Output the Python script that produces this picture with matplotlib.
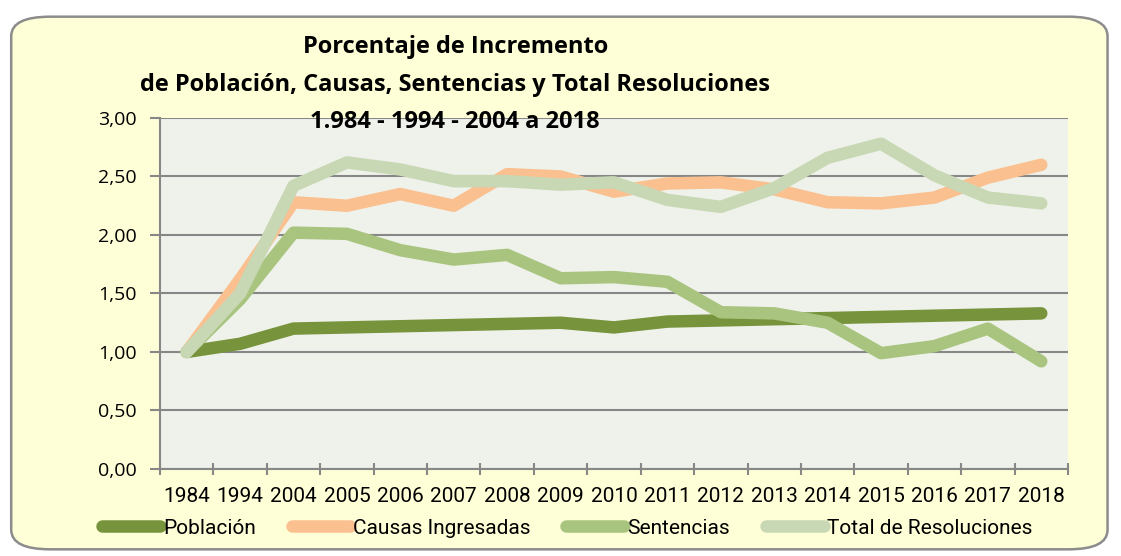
import matplotlib.pyplot as plt
from matplotlib.patches import FancyBboxPatch

years = ['1984', '1994', '2004', '2005', '2006', '2007', '2008', '2009', '2010',
         '2011', '2012', '2013', '2014', '2015', '2016', '2017', '2018']
poblacion = [1.00, 1.07, 1.20, 1.21, 1.22, 1.23, 1.24, 1.25, 1.21,
             1.26, 1.27, 1.28, 1.29, 1.30, 1.31, 1.32, 1.33]
causas = [1.00, 1.62, 2.28, 2.25, 2.35, 2.25, 2.52, 2.50, 2.37,
          2.44, 2.45, 2.39, 2.28, 2.27, 2.32, 2.49, 2.60]
sentencias = [1.00, 1.45, 2.02, 2.01, 1.87, 1.79, 1.83, 1.63, 1.64,
              1.60, 1.34, 1.33, 1.25, 0.99, 1.05, 1.20, 0.92]
total_res = [1.00, 1.50, 2.42, 2.62, 2.56, 2.46, 2.46, 2.43, 2.45,
             2.30, 2.24, 2.40, 2.66, 2.78, 2.51, 2.32, 2.27]
title_lines = ['Porcentaje de Incremento',
               'de Población, Causas, Sentencias y Total Resoluciones',
               '1.984 - 1994 - 2004 a 2018']

series = [
    ('Población', poblacion, '#77933C'),
    ('Causas Ingresadas', causas, '#FAC090'),
    ('Sentencias', sentencias, '#A9C47F'),
    ('Total de Resoluciones', total_res, '#C9D8B4'),
]

narrow = ['Liberation Sans Narrow', 'Roboto', 'DejaVu Sans']

fig = plt.figure(figsize=(11.21, 5.56), dpi=100)
fig.patch.set_facecolor('white')

# rounded yellow chart frame
frame = FancyBboxPatch((0.010, 0.012), 0.978, 0.958,
                       boxstyle='round,pad=0,rounding_size=0.035',
                       transform=fig.transFigure, facecolor='#FFFFD7',
                       edgecolor='#8C8C8C', linewidth=1.8, zorder=-5)
fig.patches.append(frame)

ax = fig.add_axes([0.1427, 0.1565, 0.81, 0.6313])
ax.set_zorder(1)
ax.set_facecolor('#EFF2EA')

x = list(range(len(years)))
for name, vals, col in series:
    ax.plot(x, vals, color=col, linewidth=9, label=name,
            solid_capstyle='round', solid_joinstyle='round')

ax.set_xlim(-0.5, len(years) - 0.5)
ax.set_ylim(0, 3)
yt = [0, 0.5, 1, 1.5, 2, 2.5, 3]
ax.set_yticks(yt)
ax.set_yticklabels([('%.2f' % v).replace('.', ',') for v in yt],
                   fontfamily='Open Sans')
ax.set_xticks(x)
ax.set_xticklabels(years, fontfamily=narrow)
ax.set_xticks([i - 0.5 for i in range(len(years) + 1)], minor=True)
ax.tick_params(axis='x', which='major', length=0, pad=13, labelsize=15)
ax.tick_params(axis='x', which='minor', length=8, color='#878787', width=1.5,
               direction='inout')
ax.tick_params(axis='y', length=7, color='#878787', width=1.5, labelsize=14, pad=10)

ax.grid(axis='y', color='#878787', linewidth=1.5)
ax.set_axisbelow(True)
for s in ['top', 'right']:
    ax.spines[s].set_visible(False)
ax.spines['left'].set_color('#878787')
ax.spines['left'].set_linewidth(1.5)
ax.spines['bottom'].set_color('#878787')
ax.spines['bottom'].set_linewidth(1.5)

# title, one text per line
for i, line in enumerate(title_lines):
    fig.text(0.406, 0.915 - i * 0.067, line, ha='center', va='center',
             fontsize=17, fontweight='bold', family='Open Sans', zorder=5)

leg = fig.legend(loc='center', bbox_to_anchor=(0.506, 0.05), ncol=4, frameon=False,
                 prop={'family': narrow, 'size': 15},
                 handlelength=2.8, handletextpad=0.15, columnspacing=1.7)

plt.savefig('out.png', dpi=100, facecolor=fig.get_facecolor())
